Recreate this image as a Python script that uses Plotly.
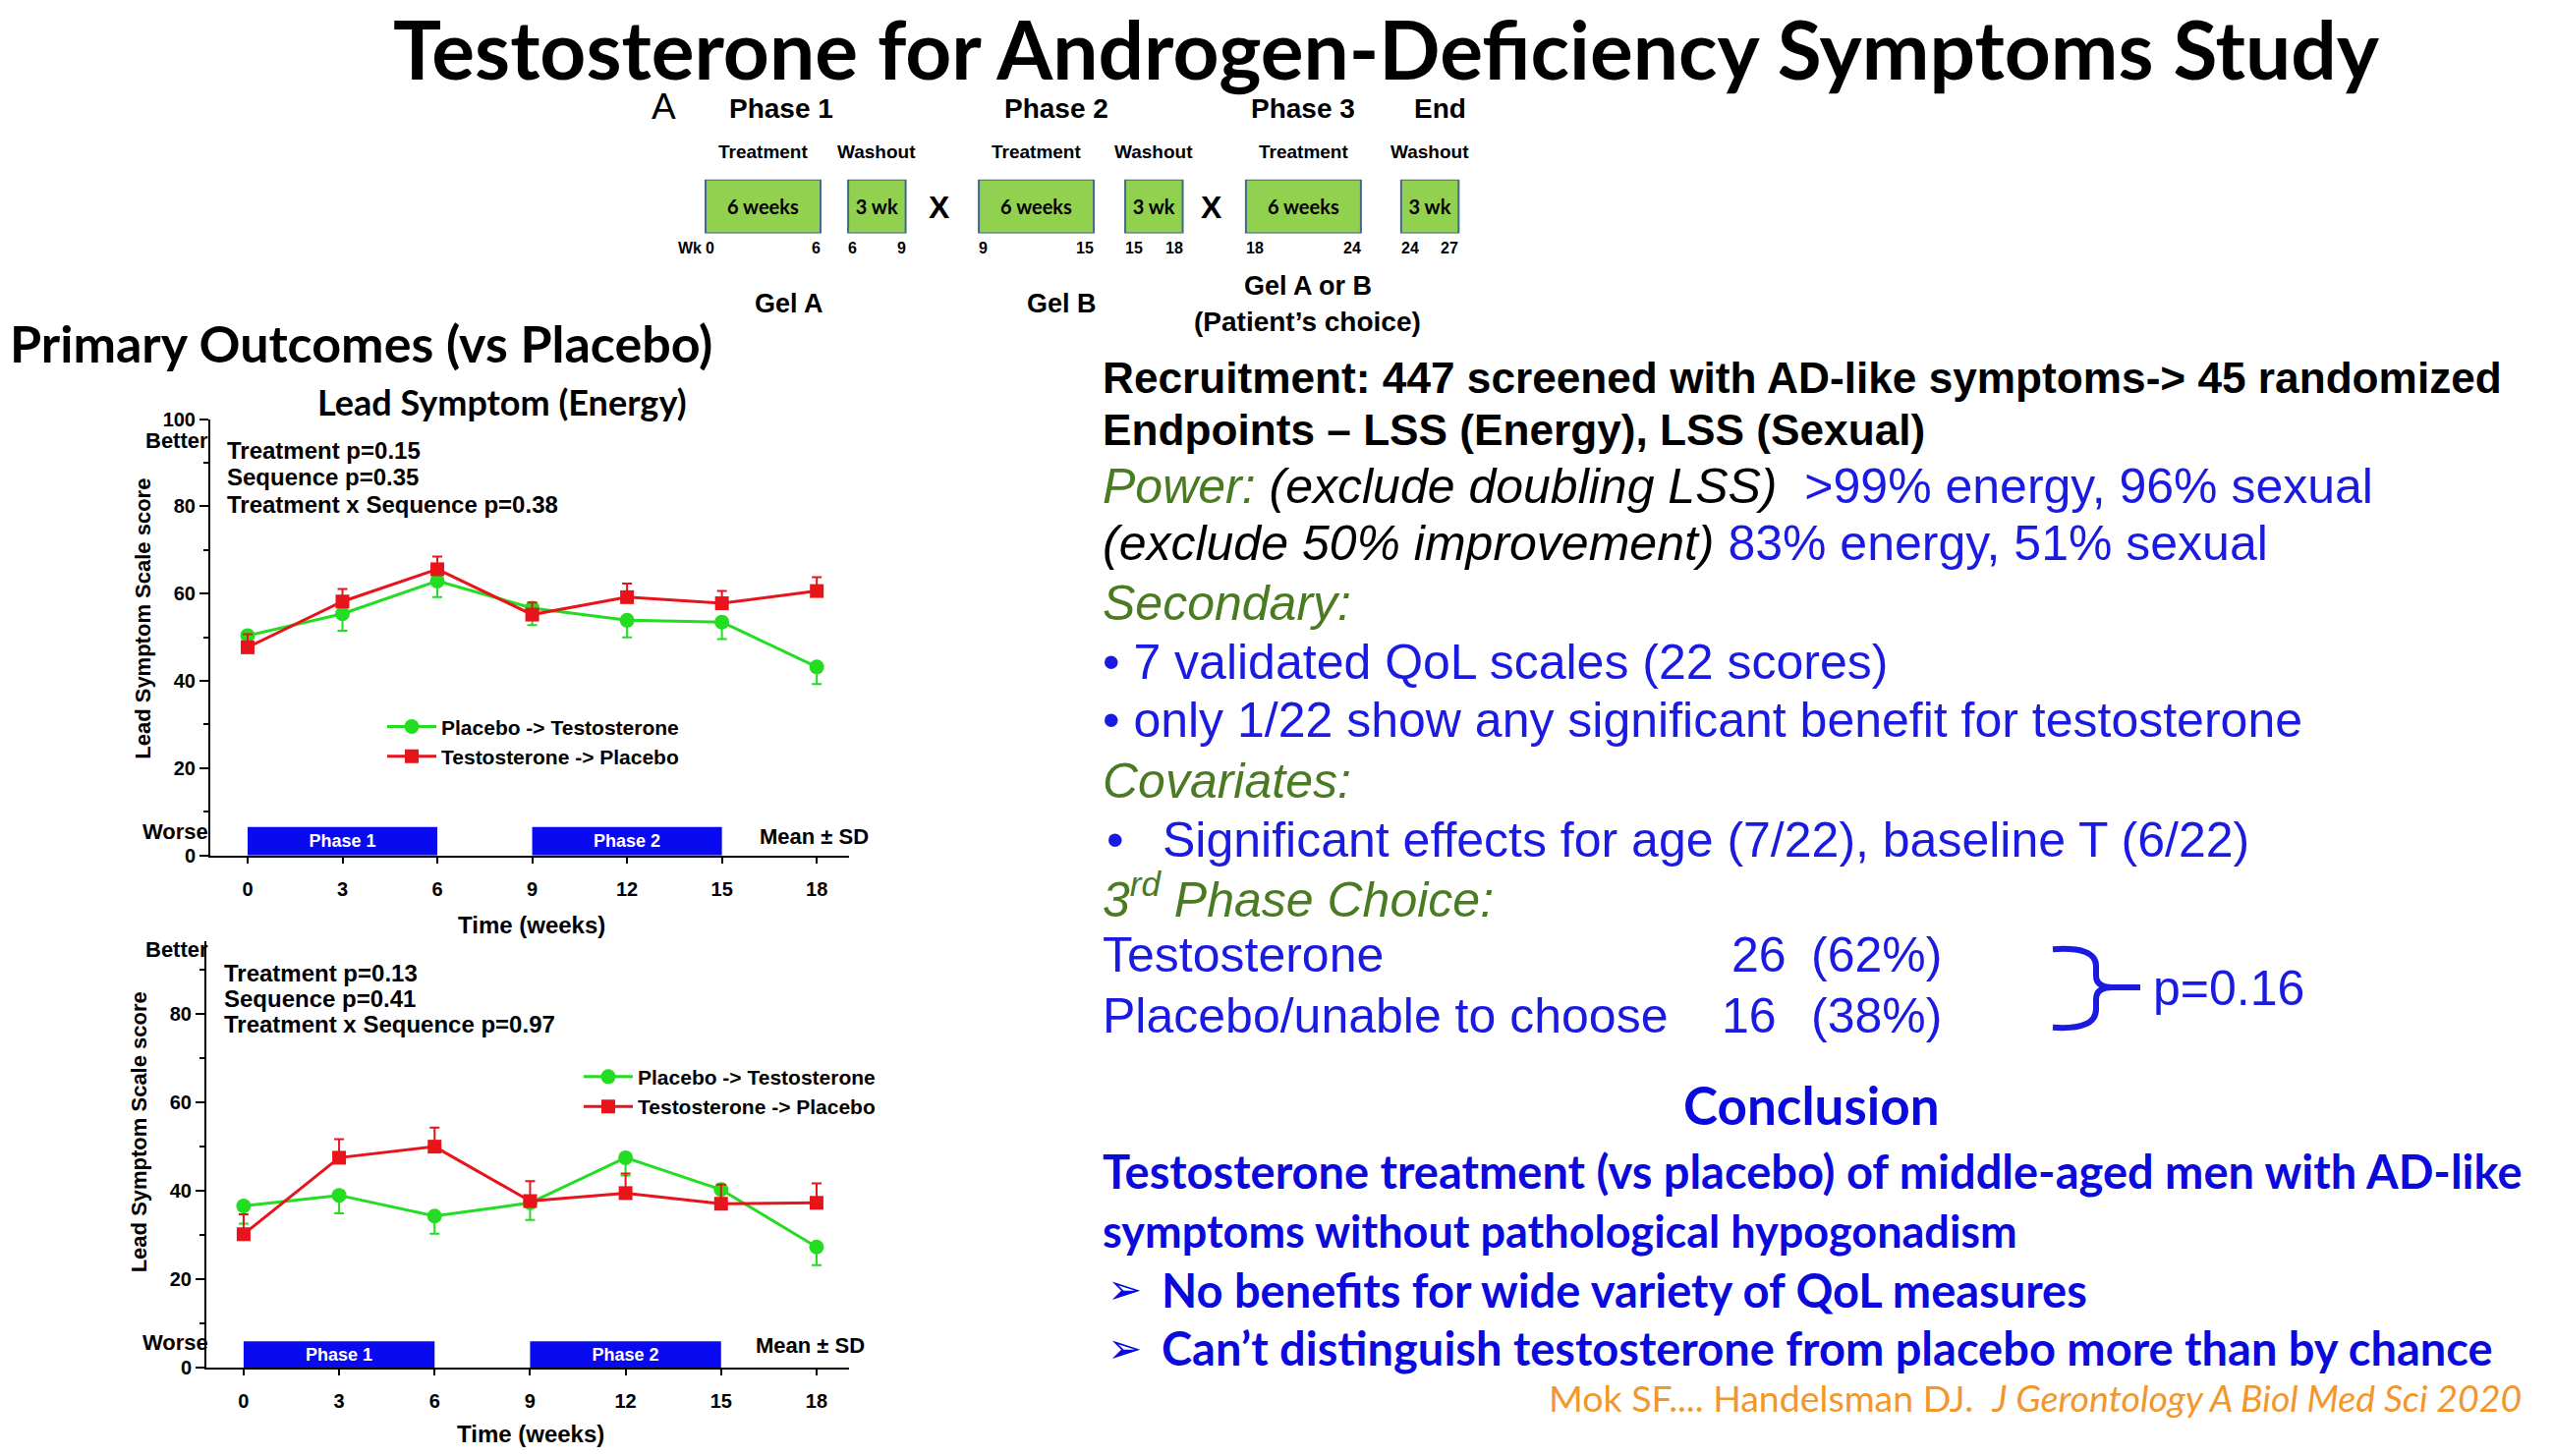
import plotly.graph_objects as go

W, H = 2598, 1482
ARIAL = "Liberation Sans, Arial, sans-serif"
CAL = "Lato, Calibri, sans-serif"

GREEN_LINE = "#22dd22"
RED_LINE = "#e8141b"
PHASE_BLUE = "#0a0af0"
TXT_BLUE = "#1a1ae0"
TXT_GREEN = "#4a7a22"
ORANGE = "#f2962e"

# study design (weeks)
seg_start = [0, 6, 9, 15, 18, 24]
seg_end = [6, 9, 15, 18, 24, 27]
seg_text = ["6 weeks", "3 wk", "6 weeks", "3 wk", "6 weeks", "3 wk"]
seg_kind = ["Treatment", "Washout", "Treatment", "Washout", "Treatment", "Washout"]
phase_names = ["Phase 1", "Phase 2", "Phase 3", "End"]
gel_names = ["Gel A", "Gel B", "Gel A or B"]

# lead symptom charts
weeks = [0, 3, 6, 9, 12, 15, 18]
energy_pt = [50.4, 55.4, 62.9, 56.7, 53.9, 53.5, 43.2]
energy_pt_sd = [3.0, 3.9, 3.7, 3.9, 3.9, 3.9, 3.9]
energy_tp = [47.7, 58.2, 65.6, 55.2, 59.2, 57.8, 60.6]
energy_tp_sd = [3.0, 2.9, 2.9, 2.8, 3.1, 2.8, 3.2]

sexual_pt = [36.6, 39.0, 34.3, 37.3, 47.5, 40.3, 27.3]
sexual_pt_sd = [4.0, 4.1, 4.0, 3.9, 4.0, 3.9, 4.1]
sexual_tp = [30.2, 47.5, 50.0, 37.7, 39.5, 37.1, 37.3]
sexual_tp_sd = [4.5, 4.2, 4.3, 4.5, 4.4, 4.3, 4.4]

phase_start = [0, 9]
phase_end = [6, 15]
phase_label = ["Phase 1", "Phase 2"]

energy_stats = ["Treatment p=0.15", "Sequence p=0.35", "Treatment x Sequence p=0.38"]
sexual_stats = ["Treatment p=0.13", "Sequence p=0.41", "Treatment x Sequence p=0.97"]

choice_names = ["Testosterone", "Placebo/unable to choose"]
choice_n = [26, 16]
choice_pct = [62, 38]


def px(x):
    return x / W


def py(y):
    # small vertical calibration measured against the reference layout
    return 1 - (1.0104 * y - 10.5) / H


def note(text, x, y, size, color="black", family=ARIAL, xanchor="center",
         yanchor="middle", angle=0):
    return dict(text=text, x=px(x), y=py(y), xref="paper", yref="paper",
                showarrow=False, xanchor=xanchor, yanchor=yanchor,
                textangle=angle, font=dict(family=family, size=size, color=color))


fig = go.Figure()

# ---- design diagram (axis in weeks, layout gaps between boxes)
gap = [0, 1.44, 5.26, 6.9, 10.2, 12.3]
wk_px, wk0_px = 19.5, 718
draw_start = [s + g for s, g in zip(seg_start, gap)]
dur = [e - s for s, e in zip(seg_start, seg_end)]
fig.add_trace(go.Bar(
    orientation="h", y=["d"] * 6, x=dur, base=draw_start, width=1,
    xaxis="x3", yaxis="y3", text=seg_text, textposition="inside",
    insidetextanchor="middle", constraintext="none",
    textfont=dict(family=CAL, size=20, color="black", weight="bold"),
    marker=dict(color="#92d050", line=dict(color="#41698c", width=2)),
    showlegend=False, hoverinfo="skip"))


def wpx(w):
    return wk0_px + wk_px * w


ann = []
ann.append(note("<b>Testosterone for Androgen-Deficiency Symptoms Study</b>", 1411, 49, 82, family=CAL))
ann.append(note("A", 676, 108, 37))
phase_x = [wpx((draw_start[0] + draw_start[0] + dur[0]) / 2) + 18,
           wpx((draw_start[2] + draw_start[2] + dur[2]) / 2) + 20,
           wpx((draw_start[4] + draw_start[4] + dur[4]) / 2),
           wpx((draw_start[5] + draw_start[5] + dur[5]) / 2) + 10]
for name, x in zip(phase_names, phase_x):
    ann.append(note("<b>%s</b>" % name, x, 110, 28))
for i in range(6):
    a, b = wpx(draw_start[i]), wpx(draw_start[i] + dur[i])
    ann.append(note("<b>%s</b>" % seg_kind[i], (a + b) / 2, 155, 19))
    ann.append(note("<b>%d</b>" % seg_start[i], a - 2, 253, 16, xanchor="left"))
    ann.append(note("<b>%d</b>" % seg_end[i], b + 2, 253, 16, xanchor="right"))
ann.append(note("<b>Wk</b>", wpx(draw_start[0]) - 2, 253, 16, xanchor="right"))
for i in (1, 3):
    x = (wpx(draw_start[i] + dur[i]) + wpx(draw_start[i + 1])) / 2
    ann.append(note("<b>X</b>", x - 3, 211, 32))
ann.append(note("<b>%s</b>" % gel_names[0], 803, 310, 27))
ann.append(note("<b>%s</b>" % gel_names[1], 1080, 310, 27))
ann.append(note("<b>%s</b>" % gel_names[2], 1331, 292, 27))
ann.append(note("<b>(Patient\u2019s choice)</b>", 1330, 328, 28))

ann.append(note("<b>Primary Outcomes (vs Placebo)</b>", 8, 350, 52, family=CAL, xanchor="left"))
ann.append(note("<b>Lead Symptom (Energy)</b>", 511, 410, 36, family=CAL))


# ---- two lead-symptom panels
def add_panel(n, pt, pt_sd, tp, tp_sd, legend):
    xa, ya = ("x", "y") if n == 1 else ("x2", "y2")
    fig.add_trace(go.Bar(
        x=[(s + e) / 2 for s, e in zip(phase_start, phase_end)],
        y=[6.5 if n == 1 else 6.0] * 2,
        width=[e - s for s, e in zip(phase_start, phase_end)],
        text=phase_label, textposition="inside", insidetextanchor="middle",
        constraintext="none",
        textfont=dict(family=ARIAL, size=18, color="white", weight="bold"),
        marker=dict(color=PHASE_BLUE, line=dict(width=0)),
        xaxis=xa, yaxis=ya, showlegend=False, hoverinfo="skip"))
    fig.add_trace(go.Scatter(
        x=weeks, y=pt, mode="lines+markers", name="Placebo -> Testosterone",
        line=dict(color=GREEN_LINE, width=3),
        marker=dict(symbol="circle", size=15, color=GREEN_LINE),
        error_y=dict(type="data", symmetric=False, array=[0] * 7,
                     arrayminus=pt_sd, color=GREEN_LINE, thickness=2, width=5),
        xaxis=xa, yaxis=ya, legend=legend))
    fig.add_trace(go.Scatter(
        x=weeks, y=tp, mode="lines+markers", name="Testosterone -> Placebo",
        line=dict(color=RED_LINE, width=3),
        marker=dict(symbol="square", size=14, color=RED_LINE),
        error_y=dict(type="data", symmetric=False, array=tp_sd,
                     arrayminus=[0] * 7, color=RED_LINE, thickness=2, width=5),
        xaxis=xa, yaxis=ya, legend=legend))


add_panel(1, energy_pt, energy_pt_sd, energy_tp, energy_tp_sd, "legend")
add_panel(2, sexual_pt, sexual_pt_sd, sexual_tp, sexual_tp_sd, "legend2")

tickfont = dict(family=ARIAL, size=20, color="black", weight="bold")
xcommon = dict(tickmode="array", tickvals=weeks, ticks="outside", ticklen=6,
               tickwidth=2, tickcolor="black", showline=True, linecolor="black",
               linewidth=2, showgrid=False, zeroline=False, tickfont=tickfont,
               ticklabelstandoff=9)
ycommon = dict(tick0=0, dtick=20, ticks="outside", ticklen=9, tickwidth=2,
               tickcolor="black", showline=True, linecolor="black", linewidth=2,
               showgrid=False, zeroline=False, tickfont=tickfont,
               minor=dict(dtick=10, ticks="outside", ticklen=5, tickwidth=2,
                          tickcolor="black", showgrid=False))

for i, s in enumerate(energy_stats):
    ann.append(note("<b>%s</b>" % s, 229, 460 + 27.5 * i, 24, xanchor="left"))
for i, s in enumerate(sexual_stats):
    ann.append(note("<b>%s</b>" % s, 226, 994 + 26.5 * i, 24, xanchor="left"))
for yb, yw in ((450, 850), (970, 1372)):
    ann.append(note("<b>Better</b>", 214, yb, 22, xanchor="right"))
    ann.append(note("<b>Worse</b>", 214, yw, 22, xanchor="right"))
ann.append(note("<b>Mean \u00b1 SD</b>", 828, 855, 22))
ann.append(note("<b>Mean \u00b1 SD</b>", 824, 1375, 22))
ann.append(note("<b>Time (weeks)</b>", 541, 945, 24))
ann.append(note("<b>Time (weeks)</b>", 540, 1466, 24))
ann.append(note("<b>Lead Symptom Scale score</b>", 146, 632, 22, angle=-90))
ann.append(note("<b>Lead Symptom Scale score</b>", 141, 1157, 22, angle=-90))

# ---- right text block
L = 1120
ann.append(note("<b>Recruitment: 447 screened with AD-like symptoms-&gt; 45 randomized</b>", L, 386, 44.2, xanchor="left"))
ann.append(note("<b>Endpoints \u2013 LSS (Energy), LSS (Sexual)</b>", L, 439, 44.2, xanchor="left"))
ann.append(note("<i><span style='color:%s'>Power:</span> (exclude doubling LSS)</i>&nbsp;&nbsp;"
                "<span style='color:%s'>&gt;99%% energy, 96%% sexual</span>" % (TXT_GREEN, TXT_BLUE),
                L, 497, 50, xanchor="left"))
ann.append(note("<i>(exclude 50%% improvement)</i> <span style='color:%s'>83%% energy, 51%% sexual</span>" % TXT_BLUE,
                L, 555, 50, xanchor="left"))
ann.append(note("<i>Secondary:</i>", L, 616, 50, color=TXT_GREEN, xanchor="left"))
ann.append(note("\u2022 7 validated QoL scales (22 scores)", L, 676, 50, color=TXT_BLUE, xanchor="left"))
ann.append(note("\u2022 only 1/22 show any significant benefit for testosterone", L, 736, 50, color=TXT_BLUE, xanchor="left"))
ann.append(note("<i>Covariates:</i>", L, 798, 50, color=TXT_GREEN, xanchor="left"))
ann.append(note("\u2022", L + 4, 858, 50, color=TXT_BLUE, xanchor="left"))
ann.append(note("Significant effects for age (7/22), baseline T (6/22)", 1181, 858, 50, color=TXT_BLUE, xanchor="left"))
ann.append(note("<i>3<sup>rd</sup> Phase Choice:</i>", L, 916, 50, color=TXT_GREEN, xanchor="left"))
for i, y in enumerate((976, 1038)):
    ann.append(note(choice_names[i], L, y, 50, color=TXT_BLUE, xanchor="left"))
    ann.append(note("%d" % choice_n[i], 1760 - 10 * i, y, 50, color=TXT_BLUE, xanchor="left"))
    ann.append(note("(%d%%)" % choice_pct[i], 1841, y, 50, color=TXT_BLUE, xanchor="left"))
ann.append(note("p=0.16", 2189, 1010, 50, color=TXT_BLUE, xanchor="left"))

CB = "#0a0adc"
ann.append(note("<b>Conclusion</b>", 1844, 1129, 53, color=CB, family=CAL))
ann.append(note("<b>Testosterone treatment (vs placebo) of middle-aged men with AD-like</b>", L, 1197, 47, color=CB, family=CAL, xanchor="left"))
ann.append(note("<b>symptoms without pathological hypogonadism</b>", L, 1258, 45, color=CB, family=CAL, xanchor="left"))
for y, s in ((1318, "No benefits for wide variety of QoL measures"),
             (1378, "Can\u2019t distinguish testosterone from placebo more than by chance")):
    ann.append(note("\u27a2", 1144, y, 42, color=CB, family="DejaVu Sans"))
    ann.append(note("<b>%s</b>" % s, 1180, y, 47, color=CB, family=CAL, xanchor="left"))
ann.append(note("Mok SF.... Handelsman DJ.&nbsp; <i>J Gerontology A Biol Med Sci 2020</i>",
                2568, 1428, 37.5, color=ORANGE, family=CAL, xanchor="right"))

# brace
pts = [("M", 2089, 970), ("Q", 2133, 967, 2133, 987), ("L", 2133, 997),
       ("Q", 2133, 1009, 2150, 1009), ("L", 2178, 1009), ("M", 2150, 1009),
       ("Q", 2133, 1009, 2133, 1021), ("L", 2133, 1031), ("Q", 2133, 1053, 2089, 1050)]
path = ""
for p in pts:
    c = p[0]
    xy = p[1:]
    path += c + " " + " ".join("%.5f,%.5f" % (px(xy[k]), py(xy[k + 1])) for k in range(0, len(xy), 2)) + " "
shapes = [dict(type="path", path=path, xref="paper", yref="paper",
               line=dict(color=TXT_BLUE, width=6))]

legend_common = dict(font=dict(family=ARIAL, size=21, color="black", weight="bold"),
                     bgcolor="rgba(0,0,0,0)", tracegroupgap=0, itemwidth=50,
                     xanchor="left", yanchor="top", traceorder="normal")

fig.update_layout(
    width=W, height=H, margin=dict(l=0, r=0, t=0, b=0),
    paper_bgcolor="white", plot_bgcolor="white", barmode="overlay",
    xaxis=dict(domain=[px(214), px(864)], range=[-1.18, 19.02], anchor="y", **xcommon),
    yaxis=dict(domain=[py(874), py(428)], range=[0, 100], anchor="x", **ycommon),
    xaxis2=dict(domain=[px(210), px(864)], range=[-1.17, 19.02], anchor="y2", **xcommon),
    yaxis2=dict(domain=[py(1398), py(962)], range=[0, 96.4], anchor="x2", **ycommon),
    xaxis3=dict(domain=[0, 1], range=[-wk0_px / wk_px, (W - wk0_px) / wk_px],
                visible=False, anchor="y3"),
    yaxis3=dict(domain=[py(238), py(183)], range=[-0.5, 0.5], type="category",
                visible=False, anchor="x3"),
    legend=dict(x=px(389), y=py(722), **legend_common),
    legend2=dict(x=px(589), y=py(1080), **legend_common),
    annotations=ann, shapes=shapes,
)

pin = ("document.documentElement.style.overflow='hidden';"
       "document.body.style.margin='0';document.body.style.overflow='hidden';"
       "var g=document.getElementsByClassName('plotly-graph-div')[0];"
       "g.style.position='fixed';g.style.top='0px';g.style.left='0px';")
fig.write_html("out.html", config={"displayModeBar": False}, post_script=pin)
